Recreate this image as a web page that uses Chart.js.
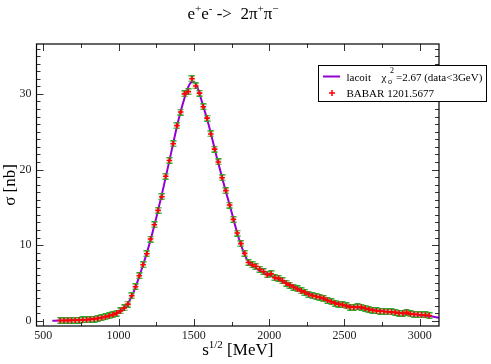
<!DOCTYPE html>
<html>
<head>
<meta charset="utf-8">
<script src="https://cdn.jsdelivr.net/npm/chart.js@4.4.1/dist/chart.umd.min.js"></script>
<style>
  body { margin: 0; background: #fff; }
  #wrap { width: 491px; height: 364px; }
</style>
</head>
<body>
<div id="wrap"><canvas id="xsec" width="491" height="364"></canvas></div>
<script>
// ===== Data =====
const sqrtS = [612.5, 637.5, 662.5, 687.5, 712.5, 737.5, 762.5, 787.5, 812.5, 837.5,
  862.5, 887.5, 912.5, 937.5, 962.5, 987.5, 1012.5, 1037.5, 1062.5, 1087.5,
  1112.5, 1137.5, 1162.5, 1187.5, 1212.5, 1237.5, 1262.5, 1287.5, 1312.5, 1337.5,
  1362.5, 1387.5, 1412.5, 1437.5, 1462.5, 1487.5, 1512.5, 1537.5, 1562.5, 1587.5,
  1612.5, 1637.5, 1662.5, 1687.5, 1712.5, 1737.5, 1762.5, 1787.5, 1812.5, 1837.5,
  1862.5, 1887.5, 1912.5, 1937.5, 1962.5, 1987.5, 2012.5, 2037.5, 2062.5, 2087.5,
  2112.5, 2137.5, 2162.5, 2187.5, 2212.5, 2237.5, 2262.5, 2287.5, 2312.5, 2337.5,
  2362.5, 2387.5, 2412.5, 2437.5, 2462.5, 2487.5, 2512.5, 2537.5, 2562.5, 2587.5,
  2612.5, 2637.5, 2662.5, 2687.5, 2712.5, 2737.5, 2762.5, 2787.5, 2812.5, 2837.5,
  2862.5, 2887.5, 2912.5, 2937.5, 2962.5, 2987.5, 3012.5, 3037.5, 3062.5];
const sigmaBabar = [0.02, 0.03, 0.04, 0.05, 0.06, 0.08, 0.10, 0.13, 0.17, 0.22,
  0.30, 0.40, 0.50, 0.65, 0.80, 1.00, 1.30, 1.70, 2.20, 3.30,
  4.50, 5.95, 7.40, 8.85, 10.8, 12.7, 14.6, 16.4, 19.1, 21.2,
  23.4, 25.8, 27.6, 30.0, 30.3, 32.0, 31.05, 30.1, 28.3, 26.8,
  24.7, 22.7, 21.0, 18.9, 17.2, 15.3, 13.4, 11.6, 10.2, 8.9,
  7.7, 7.4, 7.2, 6.8, 6.5, 6.1, 6.2, 5.7, 5.6, 5.3,
  4.95, 4.7, 4.45, 4.2, 3.95, 3.75, 3.5, 3.3, 3.2, 3.1,
  2.95, 2.7, 2.5, 2.3, 2.2, 2.1, 1.95, 1.8, 1.75, 1.82,
  1.8, 1.65, 1.5, 1.38, 1.3, 1.25, 1.22, 1.19, 1.16, 1.1,
  1.0, 0.97, 1.1, 0.9, 0.85, 0.82, 0.79, 0.76, 0.68];

// fit curve (lacoit)
const fitX = [560, 600, 700, 800, 900, 950, 1000, 1050, 1100, 1150, 1200, 1250, 1300,
  1350, 1400, 1450, 1475, 1500, 1525, 1550, 1600, 1650, 1700, 1750, 1800, 1850,
  1900, 1950, 2000, 2050, 2100, 2150, 2200, 2300, 2400, 2500, 2600, 2700, 2800,
  2900, 3000, 3100, 3130];
const fitY = [0.0, 0.02, 0.05, 0.15, 0.45, 0.7, 1.1, 1.9, 3.8, 6.6, 9.8, 13.6, 17.8,
  22.3, 26.7, 30.2, 31.4, 31.6, 30.8, 29.2, 25.8, 21.8, 18.0, 14.4, 10.8, 8.2,
  7.1, 6.5, 6.0, 5.6, 5.1, 4.6, 4.1, 3.3, 2.6, 2.05, 1.7, 1.4, 1.15,
  0.95, 0.75, 0.5, 0.38];

const xTicks = [500, 1000, 1500, 2000, 2500, 3000];
const yTicks = [0, 10, 20, 30];

const SERIF = "'Liberation Serif', 'DejaVu Serif', serif";
const VIOLET = "#9400d3";
const GREEN = "#2fa82f";

// ===== green error-bar marker =====
function makeErrBar() {
    const c = document.createElement("canvas");
    c.width = 7; c.height = 7;
    const g = c.getContext("2d");
    g.strokeStyle = GREEN;
    g.lineWidth = 1.4;
    g.beginPath();
    g.moveTo(3.5, 0.5); g.lineTo(3.5, 6.5);
    g.moveTo(0.5, 0.8); g.lineTo(6.5, 0.8);
    g.moveTo(0.5, 6.2); g.lineTo(6.5, 6.2);
    g.stroke();
    return c;
}

// draws text pieces with sup/sub, returns width
function drawRich(ctx, parts, x, y, size, measureOnly) {
    let cx = x;
    parts.forEach(p => {
        const s = p.sup || p.sub ? size * 0.65 : size;
        ctx.font = s + "px " + SERIF;
        const dy = p.sup ? -size * 0.42 : (p.sub ? size * 0.25 : 0);
        if (!measureOnly) ctx.fillText(p.t, cx, y + dy);
        cx += ctx.measureText(p.t).width;
    });
    return cx - x;
}

// ===== frame, inward ticks, titles, legend =====
const decorPlugin = {
    id: "decor",
    afterDraw(chart) {
        const ctx = chart.ctx;
        const a = chart.chartArea;
        const xs = chart.scales.x, ys = chart.scales.y;
        ctx.save();

        // ticks
        ctx.strokeStyle = "#333";
        ctx.lineWidth = 1;
        ctx.beginPath();
        xTicks.forEach(v => {
            const px = Math.round(xs.getPixelForValue(v)) + 0.5;
            ctx.moveTo(px, a.bottom); ctx.lineTo(px, a.bottom - 7);
            ctx.moveTo(px, a.top); ctx.lineTo(px, a.top + 7);
            const m = v + 250;
            if (m < xs.max) {
                const pm = Math.round(xs.getPixelForValue(m)) + 0.5;
                ctx.moveTo(pm, a.bottom); ctx.lineTo(pm, a.bottom - 4);
                ctx.moveTo(pm, a.top); ctx.lineTo(pm, a.top + 4);
            }
        });
        for (let v = Math.ceil(ys.min); v <= ys.max; v++) {
            const py = Math.round(ys.getPixelForValue(v)) + 0.5;
            const len = v % 10 === 0 ? 7 : 4;
            ctx.moveTo(a.left, py); ctx.lineTo(a.left + len, py);
            ctx.moveTo(a.right, py); ctx.lineTo(a.right - len, py);
        }
        ctx.stroke();

        // frame
        ctx.strokeStyle = "#000";
        ctx.lineWidth = 1.2;
        ctx.strokeRect(a.left, a.top, a.right - a.left, a.bottom - a.top);

        ctx.fillStyle = "#000";
        ctx.textBaseline = "alphabetic";
        ctx.textAlign = "left";

        // title
        const title = [{ t: "e" }, { t: "+", sup: true }, { t: "e" }, { t: "-", sup: true },
            { t: " ->  2\u03c0" }, { t: "+", sup: true }, { t: "\u03c0" }, { t: "\u2212", sup: true }];
        const tw = drawRich(ctx, title, 0, 0, 17, true);
        drawRich(ctx, title, 233 - tw / 2, 19, 17);

        // x axis title
        const xt = [{ t: "s" }, { t: "1/2", sup: true }, { t: " [MeV]" }];
        const xw = drawRich(ctx, xt, 0, 0, 17, true);
        drawRich(ctx, xt, (a.left + a.right) / 2 - xw / 2, 355, 17);

        // y axis title
        ctx.save();
        ctx.translate(15, (a.top + a.bottom) / 2);
        ctx.rotate(-Math.PI / 2);
        ctx.font = "17px " + SERIF;
        ctx.textAlign = "center";
        ctx.fillText("\u03c3 [nb]", 0, 0);
        ctx.restore();

        // legend box
        ctx.fillStyle = "#fff";
        ctx.fillRect(318.5, 65.5, 168, 36);
        ctx.strokeStyle = "#000";
        ctx.lineWidth = 1;
        ctx.strokeRect(318.5, 65.5, 168, 36);

        ctx.strokeStyle = VIOLET;
        ctx.lineWidth = 2;
        ctx.beginPath();
        ctx.moveTo(323, 76.5); ctx.lineTo(340, 76.5);
        ctx.stroke();

        ctx.strokeStyle = "red";
        ctx.lineWidth = 1.5;
        ctx.beginPath();
        ctx.moveTo(329, 93); ctx.lineTo(335, 93);
        ctx.moveTo(332, 90); ctx.lineTo(332, 96);
        ctx.stroke();

        ctx.fillStyle = "#000";
        ctx.font = "11px " + SERIF;
        ctx.fillText("lacoit", 346.5, 81);
        ctx.fillText("\u03c7", 381.5, 81);
        ctx.font = "8px " + SERIF;
        ctx.fillText("\u03c3", 388, 84);
        ctx.fillText("2", 390, 73);
        ctx.font = "11px " + SERIF;
        ctx.fillText("=2.67 (data<3GeV)", 396, 81);
        ctx.fillText("BABAR 1201.5677", 346.5, 97);

        ctx.restore();
    }
};

new Chart(document.getElementById("xsec").getContext("2d"), {
    type: "scatter",
    data: {
        datasets: [
            {
                label: "BABAR 1201.5677",
                data: sqrtS.map((x, i) => ({ x: x, y: sigmaBabar[i] })),
                pointStyle: "cross",
                pointRadius: 2.8,
                borderColor: "red",
                borderWidth: 1.6,
                order: 1
            },
            {
                label: "errors",
                data: sqrtS.map((x, i) => ({ x: x, y: sigmaBabar[i] })),
                pointStyle: makeErrBar(),
                order: 2
            },
            {
                label: "lacoit",
                type: "line",
                data: fitX.map((x, i) => ({ x: x, y: fitY[i] })),
                borderColor: VIOLET,
                borderWidth: 2,
                pointRadius: 0,
                cubicInterpolationMode: "monotone",
                fill: false,
                order: 3
            }
        ]
    },
    options: {
        responsive: false,
        animation: false,
        events: [],
        layout: { padding: { left: 0, top: 44, right: 52, bottom: 0 } },
        plugins: { legend: { display: false }, tooltip: { enabled: false } },
        scales: {
            x: {
                type: "linear",
                min: 455,
                max: 3128,
                afterFit: s => { s.height = 38; },
                afterBuildTicks: s => { s.ticks = xTicks.map(v => ({ value: v })); },
                grid: { display: false, drawTicks: false },
                border: { display: false },
                ticks: {
                    color: "#222", font: { family: SERIF, size: 12 }, padding: 3, maxRotation: 0,
                    callback: v => String(v)
                }
            },
            y: {
                type: "linear",
                min: -0.7,
                max: 36.6,
                afterFit: s => { s.width = 36.5; },
                afterBuildTicks: s => { s.ticks = yTicks.map(v => ({ value: v })); },
                grid: { display: false, drawTicks: false },
                border: { display: false },
                ticks: { color: "#222", font: { family: SERIF, size: 12 }, padding: 5 }
            }
        }
    },
    plugins: [decorPlugin]
});
</script>
</body>
</html>
